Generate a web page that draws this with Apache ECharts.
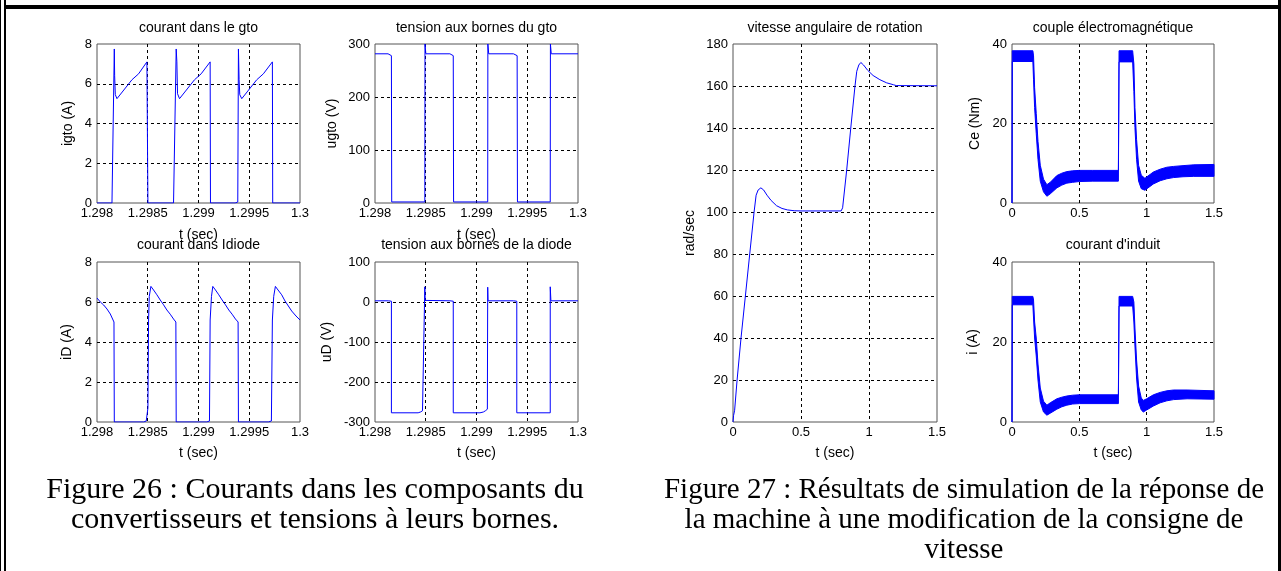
<!DOCTYPE html>
<html><head><meta charset="utf-8">
<script src="https://cdn.jsdelivr.net/npm/echarts/dist/echarts.min.js"></script>
<style>html,body{margin:0;padding:0;background:#fff}#c{width:1281px;height:571px}</style>
</head><body><div id="c"></div>
<script>
// ---------- Figure 26 data ----------
const gtoTicksX = [1.298, 1.2985, 1.299, 1.2995, 1.3];
const gtoTicksY = [0, 2, 4, 6, 8];
const gtoT = [1.298, 1.2981475, 1.2981639, 1.2981705, 1.2981705, 1.2981738, 1.2981803, 1.2981967, 1.2983443, 1.2984098, 1.2984918, 1.2985016, 1.2985016, 1.2987541, 1.2987738, 1.2987803, 1.2987803, 1.2987869, 1.2987934, 1.2988131, 1.2989607, 1.2990262, 1.2991148, 1.2991180, 1.2991180, 1.2993607, 1.2993869, 1.2993934, 1.2993934, 1.2994000, 1.2994066, 1.2994262, 1.2995738, 1.2996393, 1.2997279, 1.2997311, 1.2997311, 1.3];
const gtoI = [0, 0, 0.05, 0.05, 7.75, 6.4, 5.45, 5.25, 6.2, 6.5, 7.1, 7.1, 0, 0, 0.05, 0.05, 7.75, 7.1, 5.5, 5.25, 6.2, 6.5, 7.1, 7.1, 0, 0, 0.05, 0.05, 7.75, 6.2, 5.45, 5.25, 6.2, 6.5, 7.1, 7.1, 0, 0];

const ugtoTicksY = [0, 100, 200, 300];
const ugtoT = [1.298, 1.2981285, 1.2981384, 1.2981615, 1.2981647, 1.2981647, 1.2984909, 1.2984926, 1.2985008, 1.2987381, 1.2987479, 1.2987710, 1.2987743, 1.2987743, 1.2991104, 1.2991120, 1.2991203, 1.2993641, 1.2993740, 1.2994003, 1.2994036, 1.2994036, 1.2997265, 1.2997282, 1.2997364, 1.3];
const ugtoV = [281.5, 281.5, 278, 278, 278, 2, 2, 300, 281.5, 281.5, 278, 278, 278, 2, 2, 300, 281.5, 281.5, 278, 278, 278, 2, 2, 300, 281.5, 281.5];

const idTicksY = [0, 2, 4, 6, 8];
const idT = [1.298, 1.2980328, 1.2980656, 1.2980984, 1.2981311, 1.2981672, 1.2981705, 1.2981705, 1.2984590, 1.2984852, 1.2985016, 1.2985016, 1.2985082, 1.2985148, 1.2985311, 1.2985574, 1.2985902, 1.2986230, 1.2986557, 1.2986885, 1.2987213, 1.2987541, 1.2987770, 1.2987803, 1.2987803, 1.2990820, 1.2991082, 1.2991148, 1.2991148, 1.2991279, 1.2991410, 1.2991672, 1.2992000, 1.2992328, 1.2992656, 1.2992984, 1.2993311, 1.2993639, 1.2993902, 1.2993934, 1.2993934, 1.2996885, 1.2997180, 1.2997279, 1.2997279, 1.2997410, 1.2997574, 1.2997836, 1.2998197, 1.2998525, 1.2998852, 1.2999180, 1.2999607, 1.3];
const idV = [6.2, 6.0, 5.85, 5.65, 5.4, 5.0, 5.0, 0, 0, 0.05, 0.05, 0.7, 5.1, 6.28, 6.78, 6.6, 6.36, 6.1, 5.86, 5.6, 5.39, 5.15, 5.0, 5.0, 0, 0, 0.05, 0.05, 5.1, 6.28, 6.78, 6.6, 6.36, 6.1, 5.86, 5.6, 5.39, 5.15, 5.0, 5.0, 0, 0, 0.05, 0.05, 5.1, 6.28, 6.78, 6.6, 6.36, 6.05, 5.8, 5.55, 5.3, 5.1];

const udTicksY = [-300, -200, -100, 0, 100];
const udT = [1.298, 1.2981318, 1.2981384, 1.2981615, 1.2981615, 1.2984250, 1.2984481, 1.2984679, 1.2984876, 1.2984909, 1.2984909, 1.2984942, 1.2985074, 1.2987381, 1.2987479, 1.2987710, 1.2987710, 1.2990346, 1.2990675, 1.2990873, 1.2991071, 1.2991104, 1.2991104, 1.2991137, 1.2993641, 1.2993740, 1.2993970, 1.2993970, 1.2997265, 1.2997265, 1.2997331, 1.3];
const udV = [3, 3, 2, 2, -277, -277, -275, -272, -268, -268, 38, 4, 3, 3, 2, 2, -277, -277, -275, -272, -268, -268, 37, 3, 3, 2, 2, -277, -277, 38, 3, 3];

// ---------- Figure 27 data ----------
const simTicksX = [0, 0.5, 1, 1.5];
const spTicksY = [0, 20, 40, 60, 80, 100, 120, 140, 160, 180];
const spT = [0, 0.004, 0.012, 0.03, 0.059, 0.091, 0.123, 0.155, 0.17, 0.185, 0.205, 0.225, 0.25, 0.28, 0.32, 0.36, 0.40, 0.45, 0.5, 0.795, 0.8, 0.806, 0.836, 0.866, 0.897, 0.91, 0.925, 0.94, 0.96, 0.99, 1.03, 1.08, 1.13, 1.18, 1.2, 1.5];
const spV = [0, 3, 5.6, 20, 40, 60, 80, 100, 108, 110.5, 111.5, 110.5, 108, 105.5, 103, 101.7, 101, 100.6, 100.5, 100.5, 101, 102, 120, 140, 160, 167, 170, 171.2, 170, 167.5, 165, 163, 161.5, 160.6, 160.2, 160.1];

const ceTicksY = [0, 20, 40];
const ceT = [0, 0.002, 0.155, 0.16, 0.168, 0.18, 0.193, 0.21, 0.234, 0.259, 0.284, 0.333, 0.37, 0.407, 0.45, 0.5, 0.6, 0.79, 0.795, 0.896, 0.905, 0.913, 0.925, 0.94, 0.96, 0.987, 1.01, 1.05, 1.1, 1.15, 1.2, 1.27, 1.35, 1.5];
const ceLow = [0, 35.6, 35.6, 31, 24, 17.5, 11, 5.5, 2.8, 1.7, 2.3, 3.8, 4.5, 5, 5.2, 5.4, 5.5, 5.5, 35.5, 35.5, 28, 19, 11, 5.5, 3.6, 3.2, 3.8, 4.8, 5.6, 6.1, 6.4, 6.6, 6.7, 6.7];
const ceHigh = [0, 38.3, 38.3, 37, 29, 22.5, 15.5, 9.5, 6, 4.6, 5.2, 6.9, 7.5, 7.9, 8.1, 8.2, 8.2, 8.2, 38.3, 38.3, 35, 24, 16, 9.5, 7, 6.2, 6.8, 7.8, 8.5, 9, 9.2, 9.4, 9.6, 9.7];

const iaTicksY = [0, 20, 40];
const iaT = [0, 0.002, 0.155, 0.16, 0.168, 0.18, 0.193, 0.21, 0.234, 0.259, 0.284, 0.333, 0.37, 0.407, 0.45, 0.5, 0.79, 0.795, 0.896, 0.905, 0.913, 0.925, 0.94, 0.96, 0.975, 1.0, 1.05, 1.1, 1.15, 1.2, 1.3, 1.5];
const iaLow = [0, 29.3, 29.3, 26, 21, 16.5, 10.5, 5, 2.5, 1.7, 2.2, 3.2, 3.8, 4.2, 4.5, 4.6, 4.6, 29, 29, 25, 19, 11, 5, 3, 2.5, 3, 4, 4.8, 5.3, 5.6, 5.8, 5.7];
const iaHigh = [0, 31.4, 31.4, 30.5, 25, 21, 14.5, 8.5, 5.2, 4.2, 4.8, 5.8, 6.2, 6.5, 6.7, 6.8, 6.8, 31.4, 31.4, 30, 23.5, 15.5, 9, 6, 5.4, 5.8, 6.8, 7.4, 7.8, 8, 8, 7.8];

// ---------- texts ----------
const titles = ['courant dans le gto', 'tension aux bornes du gto', 'courant dans Idiode', 'tension aux bornes de la diode', 'vitesse angulaire de rotation', 'couple électromagnétique', "courant d'induit"];
const yNames = ['igto (A)', 'ugto (V)', 'iD (A)', 'uD (V)', 'rad/sec', 'Ce (Nm)', 'i (A)'];
const xName = 't (sec)';
const caption26 = 'Figure 26 : Courants dans les composants du\nconvertisseurs et tensions à leurs bornes.';
const caption27 = 'Figure 27 : Résultats de simulation de la réponse de\nla machine à une modification de la consigne de\nvitesse';

// ---------- layout ----------
const SANS = '"Liberation Sans", Arial, Helvetica, sans-serif';
const SERIF = '"Liberation Serif", "Times New Roman", serif';
const BLUE = '#0000ff';
const grids = [
  {left: 97, top: 44, width: 203, height: 159},
  {left: 375, top: 44, width: 203, height: 159},
  {left: 97, top: 262, width: 203, height: 160},
  {left: 375, top: 262, width: 203, height: 160},
  {left: 733, top: 44, width: 204, height: 378},
  {left: 1012, top: 44, width: 202, height: 159},
  {left: 1012, top: 262, width: 202, height: 160}
];
const xTickSets = [gtoTicksX, gtoTicksX, gtoTicksX, gtoTicksX, simTicksX, simTicksX, simTicksX];
const yTickSets = [gtoTicksY, ugtoTicksY, idTicksY, udTicksY, spTicksY, ceTicksY, iaTicksY];
const yNameGaps = [22, 36, 23, 41, 36, 30, 32];
const xNameShow = [true, true, true, true, true, false, true];
const titleY = [28, 28, 245, 245, 28, 28, 245];

const split = {show: true, showMinLine: false, showMaxLine: false, lineStyle: {color: '#000', type: [3, 3], width: 1}};
const iv = t => +(t[1] - t[0]).toFixed(10);
const fmtT = v => String(+(+v).toFixed(4));

const xAxis = xTickSets.map((tk, i) => ({
  type: 'value', gridIndex: i, min: tk[0], max: tk[tk.length - 1], interval: iv(tk),
  axisLine: {show: false}, axisTick: {show: false},
  axisLabel: {color: '#000', fontSize: 13, fontFamily: SANS, margin: 4, showMinLabel: true, showMaxLabel: true, hideOverlap: false, formatter: fmtT},
  splitLine: split,
  name: xNameShow[i] ? xName : '', nameLocation: 'middle', nameGap: i < 2 ? 25 : 24, nameMoveOverlap: false,
  nameTextStyle: {color: '#000', fontSize: 14, fontFamily: SANS}
}));
const yAxis = yTickSets.map((tk, i) => ({
  type: 'value', gridIndex: i, min: tk[0], max: tk[tk.length - 1], interval: iv(tk),
  axisLine: {show: false}, axisTick: {show: false},
  axisLabel: {color: '#000', fontSize: 13, fontFamily: SANS, margin: 5, showMinLabel: true, showMaxLabel: true, hideOverlap: false},
  splitLine: split,
  name: yNames[i], nameLocation: 'middle', nameRotate: 90, nameGap: yNameGaps[i], nameMoveOverlap: false,
  nameTextStyle: {color: '#000', fontSize: 14, fontFamily: SANS}
}));

const pairs = (t, v) => t.map((x, k) => [x, v[k]]);
const line = (i, t, v) => ({type: 'line', xAxisIndex: i, yAxisIndex: i, data: pairs(t, v), symbol: 'none', showSymbol: false,
  lineStyle: {color: BLUE, width: 1}, itemStyle: {color: BLUE}, animation: false, silent: true, z: 3});
// ripple band: filled polygon between lower and upper envelope, placed with the axes' own scales (api.coord)
const band = (i, t, lo, hi) => ({
  type: 'custom', xAxisIndex: i, yAxisIndex: i, silent: true, animation: false, z: 3,
  data: t.map((x, k) => [x, lo[k], hi[k]]),
  encode: {x: 0, y: [1, 2]},
  renderItem: (params, api) => {
    if (params.dataIndex !== 0) return null;
    const pts = [];
    for (let k = 0; k < t.length; k++) pts.push(api.coord([t[k], hi[k]]));
    for (let k = t.length - 1; k >= 0; k--) pts.push(api.coord([t[k], lo[k]]));
    return {type: 'polygon', shape: {points: pts}, style: {fill: BLUE, stroke: BLUE, lineWidth: 1}};
  }
});

const series = [
  line(0, gtoT, gtoI),
  line(1, ugtoT, ugtoV),
  line(2, idT, idV),
  line(3, udT, udV),
  line(4, spT, spV),
  band(5, ceT, ceLow, ceHigh),
  band(6, iaT, iaLow, iaHigh)
];

const title = titles.map((txt, i) => ({
  text: txt, left: grids[i].left + grids[i].width / 2, top: titleY[i], textAlign: 'center', textVerticalAlign: 'middle', padding: 0,
  textStyle: {color: '#000', fontSize: 14, fontWeight: 'normal', fontFamily: SANS}
}));

const rect = (x, y, w, h) => ({type: 'rect', shape: {x, y, width: w, height: h}, style: {fill: '#000'}, silent: true});
const capText = (txt, cx, size) => ({type: 'text', x: cx, y: 475, silent: true,
  style: {text: txt, font: size + 'px ' + SERIF, fill: '#000', align: 'center', textAlign: 'center', verticalAlign: 'top', textVerticalAlign: 'top', lineHeight: 30}});

const option = {
  animation: false,
  backgroundColor: '#fff',
  title,
  grid: grids.map(g => Object.assign({show: true, borderColor: '#555', borderWidth: 1, backgroundColor: 'transparent', containLabel: false, outerBoundsMode: 'none'}, g)),
  xAxis, yAxis, series,
  graphic: [
    rect(0, 0, 1, 571), rect(4, 0, 2, 571), rect(4, 5, 1277, 4), rect(1278, 0, 3, 571),
    capText(caption26, 315, 30), capText(caption27, 964, 29)
  ]
};
const chart = echarts.init(document.getElementById('c'), null, {renderer: 'canvas'});
chart.setOption(option);
</script></body></html>
